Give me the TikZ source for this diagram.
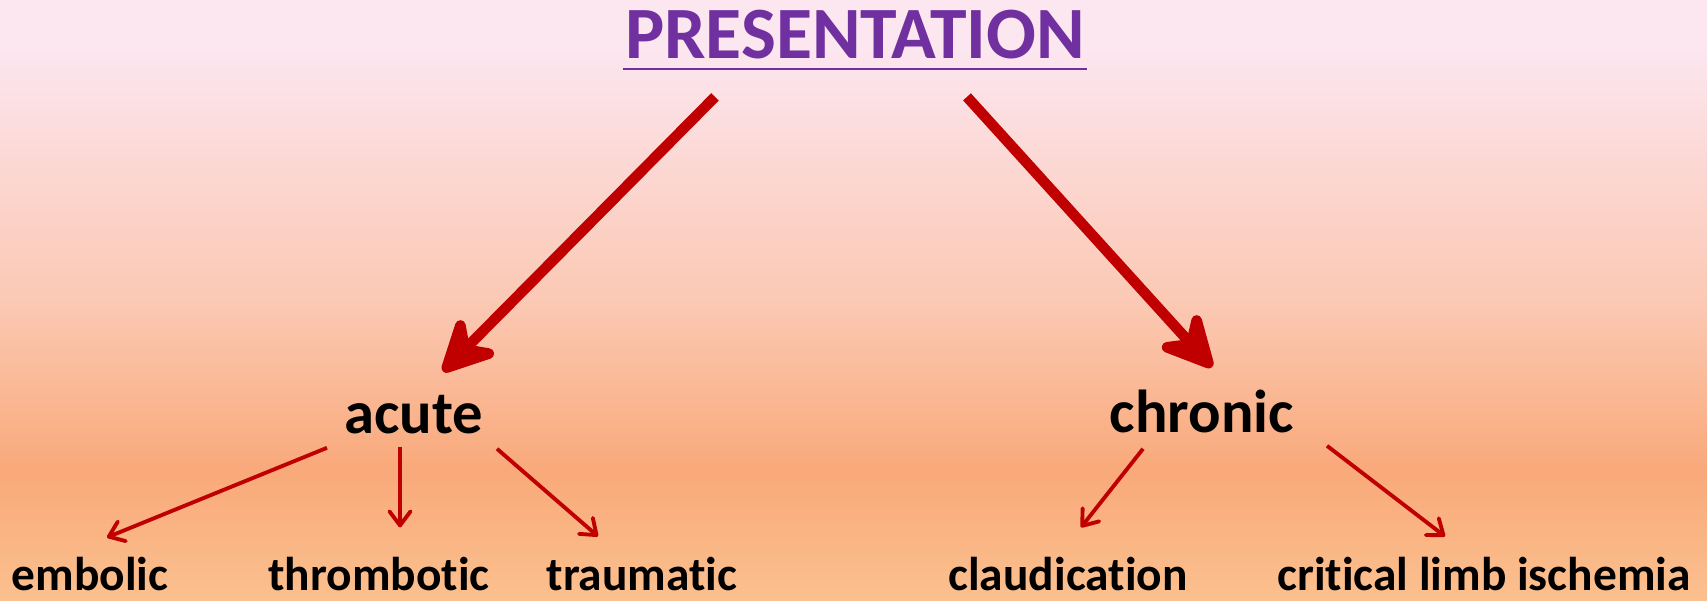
\documentclass[tikz,border=0pt]{standalone}
\usepackage{fontspec}
\setmainfont[Ligatures=NoCommon]{Carlito}
\usetikzlibrary{arrows.meta, positioning}

\definecolor{titlepurple}{HTML}{7030A0}
\definecolor{arrowred}{HTML}{C00000}
\definecolor{bgtop}{HTML}{FCE6F0}
\definecolor{bgupper}{HTML}{FCD8D4}
\definecolor{bgmid}{HTML}{FBC9B4}
\definecolor{bgdeep}{HTML}{F9A97A}
\definecolor{bgbottom}{HTML}{FBC08E}

\pgfdeclareverticalshading{slidebg}{100bp}{color(0bp)=(bgbottom); color(25bp)=(bgbottom); color(35.8bp)=(bgdeep); color(50bp)=(bgmid); color(61.5bp)=(bgupper); color(71bp)=(bgtop); color(100bp)=(bgtop)}

\tikzstyle{heading} = [
    inner sep=0pt,
    anchor=base,
    text=titlepurple,
    font=\fontsize{42}{50}\selectfont\bfseries
]
\tikzstyle{branch} = [
    inner sep=0pt,
    anchor=base,
    font=\fontsize{34.5}{41}\selectfont\bfseries
]
\tikzstyle{leaf} = [
    inner sep=0pt,
    anchor=base,
    font=\fontsize{27}{32}\selectfont\bfseries
]
\tikzstyle{bigarrow} = [line width=6pt, color=arrowred, -{Stealth[length=38pt, width=38pt, inset=13pt, round]}]
\tikzstyle{smallarrow} = [line width=2.2pt, color=arrowred, -{Straight Barb[length=8pt, width=12pt, round]}]

\begin{document}
\begin{tikzpicture}[x=0.02cm, y=-0.02cm]

\shade[shading=slidebg] (0,0) rectangle (1707,600);
\useasboundingbox (0,0) rectangle (1707,600);

\node (title) [heading] at (855,58) {PRESENTATION};
\draw[titlepurple, line width=1.2pt] ([shift={(-2,11)}]title.base west) -- ([shift={(2,11)}]title.base east);

\node (acute) [branch] at (414,433) {acute};
\node (chronic) [branch] at (1202,432) {chronic};

\node (embolic) [leaf] at (90,590) {embolic};
\node (thrombotic) [leaf] at (379,590) {thrombotic};
\node (traumatic) [leaf] at (642,590) {traumatic};
\node (claudication) [leaf] at (1068,590) {claudication};
\node (cli) [leaf] at (1484,590) {critical limb ischemia};

% main branches
\draw[bigarrow] ([shift={(-140,38)}]title.south) -- ([shift={(29,-23)}]acute.north);
\draw[bigarrow] ([shift={(112,38)}]title.south) -- ([shift={(10,-22)}]chronic.north);

% sub branches
\draw[smallarrow] ([shift={(-87,14)}]acute.south) -- ([shift={(17,-19)}]embolic.north);
\draw[smallarrow] ([shift={(-14,13)}]acute.south) -- ([shift={(21,-29)}]thrombotic.north);
\draw[smallarrow] ([shift={(83,15)}]acute.south) -- ([shift={(-44,-20)}]traumatic.north);
\draw[smallarrow] ([shift={(-59,16)}]chronic.south) -- ([shift={(13,-29)}]claudication.north);
\draw[smallarrow] ([shift={(125,13)}]chronic.south) -- ([shift={(-39,-20)}]cli.north);

\end{tikzpicture}
\end{document}
